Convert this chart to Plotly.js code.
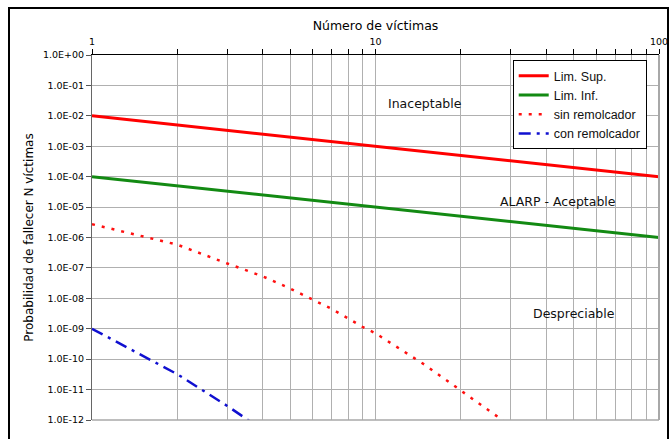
<!DOCTYPE html>
<html>
<head>
<meta charset="utf-8">
<script src="https://cdn.plot.ly/plotly-3.0.1.min.js"></script>
<style>
  html, body { margin: 0; padding: 0; background: #fff; }
  #wrap { position: relative; width: 669px; height: 439px; overflow: hidden; }
  #chart { width: 669px; height: 439px; }
  #frame { position: absolute; left: 8px; top: 7px; width: 657px; height: 460px;
           border: 2px solid #000; pointer-events: none; }
</style>
</head>
<body>
<div id="wrap"><div id="chart"></div><div id="frame"></div></div>
<script>
// ---- data ----
const nLim = [1, 100];
const limSup = [1e-2, 1e-4];
const limInf = [1e-4, 1e-6];

const nSin = [1, 2, 3, 4, 5, 6, 7, 8, 9, 10, 15, 20, 25, 30];
const sinRemolcador = [2.75e-6, 5.8e-7, 1.4e-7, 5.3e-8, 2.1e-8, 9.1e-9, 4.5e-9, 2.2e-9, 1.15e-9, 7.1e-10, 6.3e-11, 9.3e-12, 2.1e-12, 6.3e-13];

const nCon = [1, 2, 3, 4];
const conRemolcador = [1e-9, 3.2e-11, 2.9e-12, 4.7e-13];

const xTickVals = [1, 2, 3, 4, 5, 6, 7, 8, 9, 10, 20, 30, 40, 50, 60, 70, 80, 90, 100];
const xTickText = ['1', '', '', '', '', '', '', '', '', '10', '', '', '', '', '', '', '', '', '100'];
const yTickVals = [1e0, 1e-1, 1e-2, 1e-3, 1e-4, 1e-5, 1e-6, 1e-7, 1e-8, 1e-9, 1e-10, 1e-11, 1e-12];
const yTickText = ['1.0E+00', '1.0E-01', '1.0E-02', '1.0E-03', '1.0E-04', '1.0E-05', '1.0E-06',
                   '1.0E-07', '1.0E-08', '1.0E-09', '1.0E-10', '1.0E-11', '1.0E-12'];

const traces = [
  { x: nLim, y: limSup, name: 'Lim. Sup.', mode: 'lines',
    line: { color: '#ff0000', width: 3 } },
  { x: nLim, y: limInf, name: 'Lim. Inf.', mode: 'lines',
    line: { color: '#138a13', width: 3 } },
  { x: nSin, y: sinRemolcador, name: 'sin remolcador', mode: 'lines',
    line: { color: '#ff1010', width: 2.5, dash: '3px,7px' } },
  { x: nCon, y: conRemolcador, name: 'con remolcador', mode: 'lines',
    line: { color: '#1010d0', width: 2.5, dash: '12px,6px,3px,6px' } }
];

const tickFont = { family: 'DejaVu Sans', size: 9.5, color: '#000' };
const textFont = { family: 'DejaVu Sans', size: 12.5, color: '#111' };

const layout = {
  width: 669, height: 439,
  margin: { l: 92, r: 10, t: 55, b: 19 },
  paper_bgcolor: '#fff', plot_bgcolor: '#fff',
  showlegend: true,
  legend: {
    x: 0.742, y: 0.986, xanchor: 'left', yanchor: 'top',
    bgcolor: '#fff', bordercolor: '#000', borderwidth: 1,
    font: { family: 'Liberation Sans', size: 12.5, color: '#111' },
    traceorder: 'normal'
  },
  xaxis: {
    type: 'log', side: 'top', range: [0, 2],
    tickvals: xTickVals, ticktext: xTickText,
    ticks: 'outside', ticklen: 5, tickcolor: '#000',
    showgrid: true, gridcolor: '#b0b0b0', gridwidth: 1,
    showline: true, linecolor: '#000', linewidth: 1,
    tickfont: tickFont,
    title: { text: 'Número de víctimas', font: { family: 'DejaVu Sans', size: 12.5, color: '#000' }, standoff: 2 },
    zeroline: false
  },
  yaxis: {
    type: 'log', range: [-12, 0],
    tickvals: yTickVals, ticktext: yTickText,
    ticks: 'outside', ticklen: 5, tickcolor: '#555',
    showgrid: true, gridcolor: '#b0b0b0', gridwidth: 1,
    showline: true, linecolor: '#666', linewidth: 1,
    tickfont: tickFont,
    title: { text: 'Probabilidad de fallecer N víctimas', font: { family: 'DejaVu Sans', size: 12, color: '#000' }, standoff: 6 },
    zeroline: false
  },
  shapes: [
    { type: 'line', xref: 'paper', yref: 'paper', x0: 1, x1: 1, y0: 0, y1: 1,
      line: { color: '#a8a8a8', width: 2 } },
    { type: 'line', xref: 'paper', yref: 'paper', x0: 0, x1: 1, y0: 0, y1: 0,
      line: { color: '#a8a8a8', width: 1.5 } }
  ],
  annotations: [
    { text: 'Inaceptable', xref: 'paper', yref: 'paper', x: 0.587, y: 0.866,
      xanchor: 'center', yanchor: 'middle', showarrow: false, font: textFont },
    { text: 'ALARP - Aceptable', xref: 'paper', yref: 'paper', x: 0.822, y: 0.600,
      xanchor: 'center', yanchor: 'middle', showarrow: false, font: textFont },
    { text: 'Despreciable', xref: 'paper', yref: 'paper', x: 0.850, y: 0.293,
      xanchor: 'center', yanchor: 'middle', showarrow: false, font: textFont }
  ]
};

Plotly.newPlot('chart', traces, layout, { displayModeBar: false, staticPlot: true });
</script>
</body>
</html>
